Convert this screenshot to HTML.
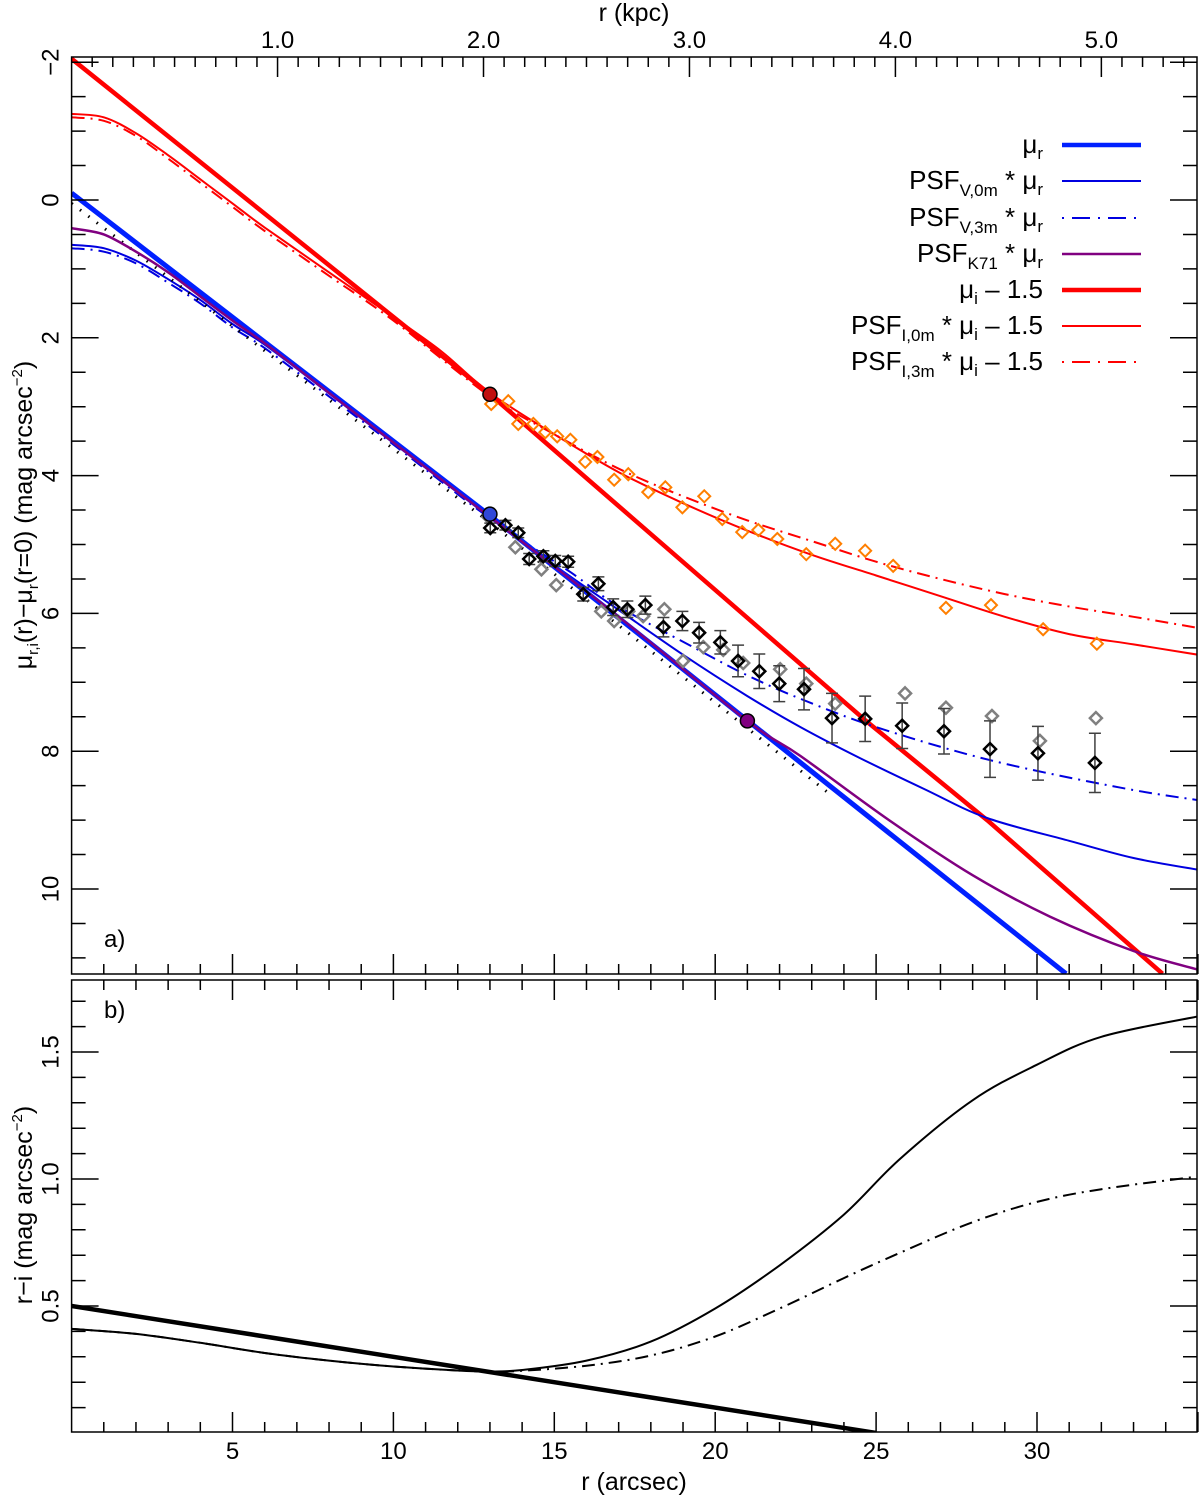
<!DOCTYPE html>
<html><head><meta charset="utf-8"><style>
body{margin:0;background:#fff;}
svg{display:block;font-family:"Liberation Sans",sans-serif;}
</style></head><body>
<svg id="chart" width="1200" height="1498" viewBox="0 0 1200 1498" xmlns="http://www.w3.org/2000/svg"></svg>
<script>
// ---- data (r in arcsec, mu in mag) ----
const muR_r=[0,13,30.9];
const muR_v=[-0.1,4.58,11.23];
const v0m_r=[0,1,2,3,4,5,6,8,10,13,15,17,19,21,22.65,24.5,26.5,28.45,31,33,35];
const v0m_v=[0.65,0.7,0.88,1.15,1.45,1.8,2.1,2.8,3.5,4.6,5.3,5.95,6.6,7.2,7.65,8.1,8.55,8.97,9.3,9.55,9.72];
const v3m_r=[0,1,2,3,4,5,6,8,10,13,15.5,17,19.6,21,22.65,25,28.55,32.6,35];
const v3m_v=[0.7,0.75,0.92,1.2,1.5,1.85,2.15,2.85,3.55,4.62,5.4,5.9,6.56,6.9,7.24,7.65,8.13,8.53,8.71];
const k71_r=[0,1,2,3,4,5,6,8,10,13,17,21,22.65,25.4,28,30.4,33,35];
const k71_v=[0.41,0.5,0.75,1.05,1.4,1.75,2.08,2.8,3.52,4.6,6.05,7.56,8.07,9.0,9.8,10.4,10.9,11.17];
const dot_r=[0,13,23.5];
const dot_v=[0.05,4.68,8.6];
const muI_r=[0,13,24.66,28.45,33.9];
const muI_v=[-2.05,2.82,7.55,9.0,11.23];
const i0m_r=[0,1,2,3,4,5,6,8,10,11.5,13,15,17,19,21,23,25,27,29,31,33,35];
const i0m_v=[-1.25,-1.2,-0.97,-0.65,-0.3,0.05,0.4,1.05,1.7,2.2,2.8,3.4,3.95,4.4,4.8,5.15,5.45,5.75,6.05,6.3,6.45,6.6];
const i3m_r=[0,1,2,3,4,5,6,8,10,13,15,17,19,21,23,25,27,29,31,33,35];
const i3m_v=[-1.2,-1.15,-0.93,-0.6,-0.25,0.1,0.45,1.1,1.75,2.85,3.4,3.9,4.3,4.65,4.95,5.25,5.5,5.72,5.9,6.05,6.21];
const orange_r=[13.04,13.57,13.88,14.35,14.72,15.09,15.5,15.96,16.34,16.86,17.3,17.92,18.45,18.98,19.66,20.22,20.84,21.34,21.93,22.83,23.73,24.66,25.53,27.17,28.57,30.19,31.86];
const orange_v=[2.96,2.92,3.25,3.25,3.37,3.43,3.48,3.80,3.73,4.06,3.98,4.24,4.17,4.46,4.30,4.63,4.82,4.79,4.92,5.14,4.99,5.09,5.31,5.92,5.88,6.23,6.44];
const black_r=[13.01,13.48,13.88,14.22,14.66,15.03,15.43,15.90,16.37,16.83,17.27,17.83,18.39,18.98,19.50,20.16,20.71,21.37,21.99,22.76,23.63,24.66,25.81,27.11,28.54,30.03,31.80];
const black_v=[4.76,4.72,4.83,5.21,5.17,5.24,5.25,5.72,5.57,5.91,5.94,5.88,6.20,6.11,6.28,6.42,6.69,6.84,7.02,7.10,7.52,7.53,7.63,7.71,7.97,8.03,8.17];
const black_e=[0.07,0.07,0.07,0.08,0.08,0.08,0.08,0.1,0.1,0.12,0.12,0.13,0.14,0.14,0.15,0.17,0.23,0.25,0.26,0.3,0.36,0.33,0.33,0.33,0.41,0.39,0.43];
const gray_r=[12.95,13.79,14.60,15.06,16.46,16.86,17.30,17.76,18.42,19.0,19.63,20.25,20.87,22.02,22.83,23.73,25.90,27.17,28.60,30.09,31.83];
const gray_v=[4.60,5.04,5.36,5.59,5.97,6.11,5.97,6.04,5.94,6.69,6.49,6.53,6.72,6.81,7.02,7.31,7.16,7.37,7.49,7.85,7.52];
const dots_r=[13,13,21];
const dots_v=[2.82,4.56,7.56];
// panel b
const riThick_r=[0,25];
const riThick_v=[0.5,0.0];
const ri0_r=[0,2,4,6,8,10,12,13,14,16,18,20,22,24,25.75,28,30,32,35];
const ri0_v=[0.41,0.39,0.355,0.315,0.285,0.262,0.246,0.242,0.248,0.285,0.36,0.49,0.66,0.86,1.08,1.31,1.45,1.56,1.64];
const ri3_r=[0,2,4,6,8,10,12,13,14,16,18,20,22,24,25.75,28,30,32,35];
const ri3_v=[0.41,0.39,0.355,0.315,0.285,0.262,0.246,0.242,0.245,0.265,0.305,0.38,0.49,0.61,0.71,0.83,0.91,0.96,1.01];
const xTickLabels=[5,10,15,20,25,30];
const aTickLabels=[-2,0,2,4,6,8,10];
const bTickLabels=["0.5","1.0","1.5"];
const kpcLabels=["1.0","2.0","3.0","4.0","5.0"];

// ---- geometry ----
const L=71.6,R=1197,AT=57,AB=974,BT=980,BB=1432;
const X=r=>L+r*32.18;
const YA=m=>200+m*68.9;
const YB=v=>1433-v*254;
const NS="http://www.w3.org/2000/svg";
const svg=document.getElementById('chart');
function el(tag,attrs,parent){const e=document.createElementNS(NS,tag);for(const k in attrs)e.setAttribute(k,attrs[k]);(parent||svg).appendChild(e);return e;}
function clip(id,y1,y2){const c=el('clipPath',{id:id});el('rect',{x:L,y:y1,width:R-L,height:y2-y1},c);}
clip('ca',AT,AB);clip('cb',BT,BB);
const gA=el('g',{'clip-path':'url(#ca)'});


const gB=el('g',{'clip-path':'url(#cb)'});


const DD='13 6 2 6';
function smoothPath(pts){
  if(pts.length<3)return 'M'+pts.map(p=>p[0].toFixed(1)+','+p[1].toFixed(1)).join('L');
  let d='M'+pts[0][0].toFixed(1)+','+pts[0][1].toFixed(1);
  for(let i=0;i<pts.length-1;i++){
    const p0=pts[Math.max(0,i-1)],p1=pts[i],p2=pts[i+1],p3=pts[Math.min(pts.length-1,i+2)];
    const c1=[p1[0]+(p2[0]-p0[0])/6,p1[1]+(p2[1]-p0[1])/6];
    const c2=[p2[0]-(p3[0]-p1[0])/6,p2[1]-(p3[1]-p1[1])/6];
    d+=`C${c1[0].toFixed(1)},${c1[1].toFixed(1)} ${c2[0].toFixed(1)},${c2[1].toFixed(1)} ${p2[0].toFixed(1)},${p2[1].toFixed(1)}`;
  }
  return d;
}
function line(g,rs,vs,Y,color,w,dash,name,straight){
  const pts=rs.map((r,i)=>[X(r),Y(vs[i])]);
  const d=straight?'M'+pts.map(p=>p[0].toFixed(1)+','+p[1].toFixed(1)).join('L'):smoothPath(pts);
  const e=el('path',{d:d,fill:'none',stroke:color,'stroke-width':w,'stroke-linejoin':'round'},g);
  if(dash)e.setAttribute('stroke-dasharray',dash);
  
  
}
line(gA,i3m_r,i3m_v,YA,'#f00',2,DD,'psf-i-3m-line');
line(gA,i0m_r,i0m_v,YA,'#f00',2,null,'psf-i-0m-line');
line(gA,muI_r,muI_v,YA,'#f00',4.5,null,'mu-i-line',true);
line(gA,v3m_r,v3m_v,YA,'#0000e0',2,DD,'psf-v-3m-line');
line(gA,v0m_r,v0m_v,YA,'#0000e0',2,null,'psf-v-0m-line');
line(gA,dot_r,dot_v,YA,'#000',3,'1.5 9','dotted-model-line',true);
line(gA,muR_r,muR_v,YA,'#0020ff',5,null,'mu-r-line',true);
line(gA,k71_r,k71_v,YA,'#800080',2.5,null,'psf-k71-line');
function diamond(g,x,y,color,w,name){
  const s=6;
  const e=el('polygon',{points:`${x},${y-s} ${x+s},${y} ${x},${y+s} ${x-s},${y}`,fill:'none',stroke:color,'stroke-width':w},g);
  
  
}
orange_r.forEach((r,i)=>diamond(gA,X(r),YA(orange_v[i]),'#ff7f00',2,'orange-point'));
gray_r.forEach((r,i)=>diamond(gA,X(r),YA(gray_v[i]),'#808080',2.5,'gray-point'));
black_r.forEach((r,i)=>{
  const x=X(r),y1=YA(black_v[i]-black_e[i]),y2=YA(black_v[i]+black_e[i]);
  const eb=el('path',{d:`M${x},${y1}V${y2}M${x-6},${y1}H${x+6}M${x-6},${y2}H${x+6}`,stroke:'#404040','stroke-width':1.5,fill:'none'},gA);
  
  
  diamond(gA,x,YA(black_v[i]),'#000',2.5,'black-point');
});
const dotColors=['#c01010','#3048d8','#800080'];
dots_r.forEach((r,i)=>{
  const c=el('circle',{cx:X(r),cy:YA(dots_v[i]),r:7,fill:dotColors[i],stroke:'#000','stroke-width':1.5},gA);
  
  
});
line(gB,riThick_r,riThick_v,YB,'#000',4.5,null,'ri-intrinsic-line',true);
line(gB,ri0_r,ri0_v,YB,'#000',2,null,'ri-0m-line');
line(gB,ri3_r,ri3_v,YB,'#000',2,DD,'ri-3m-line');

// ---- frames & ticks ----
function rect(y1,y2,name){const e=el('rect',{x:L,y:y1,width:R-L,height:y2-y1,fill:'none',stroke:'#000','stroke-width':1.5});}
rect(AT,AB,'panel-a-frame');rect(BT,BB,'panel-b-frame');
const tk=el('g',{stroke:'#000','stroke-width':1.5});


let d='';
for(let r=1;r<35.05;r++){const x=X(r),len=r%5==0?20:10;
  d+=`M${x},${AB}v${-len}M${x},${BT}v${len}M${x},${BB}v${-len}`;}
for(let k=1;k<=54;k++){const x=X(k*0.1*6.4);if(x>R)break;const len=k%10==0?20:10;d+=`M${x},${AT}v${len}`;}
for(let m=-2;m<=11;m+=0.5){const y=YA(m);if(y<AT||y>AB)continue;const len=(Math.abs(m%2)<1e-6)?27:14;d+=`M${L},${y}h${len}M${R},${y}h${-len}`;}
for(let k=1;k<18;k++){const v=k*0.1,y=YB(v);const len=k%5==0?27:14;d+=`M${L},${y}h${len}M${R},${y}h${-len}`;}
el('path',{d:d},tk);
function txt(x,y,s,opts){const e=el('text',Object.assign({x:x,y:y,'font-size':24,'text-anchor':'middle',fill:'#000'},opts||{}));e.innerHTML=s;return e;}
xTickLabels.forEach(v=>{const t=txt(X(v),1459,v);});
kpcLabels.forEach(v=>{const t=txt(X(parseFloat(v)*6.4),48,v);});
aTickLabels.forEach(v=>{const y=YA(v);const t=txt(52,y,String(v).replace('-','−'),{transform:`rotate(-90 52 ${y})`,'dominant-baseline':'middle'});});
bTickLabels.forEach(v=>{const y=YB(parseFloat(v));const t=txt(52,y,v,{transform:`rotate(-90 52 ${y})`,'dominant-baseline':'middle'});});
</script>
<svg style="position:absolute;left:0;top:0" width="1200" height="1498" xmlns="http://www.w3.org/2000/svg" font-family="Liberation Sans, sans-serif">
<text x="634" y="1490" font-size="25" text-anchor="middle">r (arcsec)</text>
<text x="634" y="21" font-size="25" text-anchor="middle">r (kpc)</text>
<text transform="translate(32 515) rotate(-90)" font-size="25" text-anchor="middle">μ<tspan font-size="15" dy="6">r,i</tspan><tspan dy="-6">(r)−μ</tspan><tspan font-size="15" dy="6">r</tspan><tspan dy="-6">(r=0) (mag arcsec</tspan><tspan font-size="15" dy="-10">−2</tspan><tspan dy="10">)</tspan></text>
<text transform="translate(32 1205) rotate(-90)" font-size="25" text-anchor="middle">r−i (mag arcsec<tspan font-size="15" dy="-10">−2</tspan><tspan dy="10">)</tspan></text>
<text x="104" y="947" font-size="24">a)</text>
<text x="104" y="1018" font-size="24">b)</text>
<g font-size="26" text-anchor="end">
<text x="1043" y="153">μ<tspan font-size="17" dy="6">r</tspan></text>
<line x1="1062" y1="145" x2="1141" y2="145" stroke="#0020ff" stroke-width="4.5"/>
<text x="1043" y="189">PSF<tspan font-size="17" dy="7">V,0m</tspan><tspan dy="-7"> * μ</tspan><tspan font-size="17" dy="6">r</tspan></text>
<line x1="1062" y1="181" x2="1141" y2="181" stroke="#0000e0" stroke-width="2"/>
<text x="1043" y="226">PSF<tspan font-size="17" dy="7">V,3m</tspan><tspan dy="-7"> * μ</tspan><tspan font-size="17" dy="6">r</tspan></text>
<line x1="1062" y1="218" x2="1141" y2="218" stroke="#0000e0" stroke-width="2" stroke-dasharray="2 8 18 8"/>
<text x="1043" y="262">PSF<tspan font-size="17" dy="7">K71</tspan><tspan dy="-7"> * μ</tspan><tspan font-size="17" dy="6">r</tspan></text>
<line x1="1062" y1="254" x2="1141" y2="254" stroke="#800080" stroke-width="2.5"/>
<text x="1043" y="298">μ<tspan font-size="17" dy="6">i</tspan><tspan dy="-6"> – 1.5</tspan></text>
<line x1="1062" y1="290" x2="1141" y2="290" stroke="#f00" stroke-width="4.5"/>
<text x="1043" y="334">PSF<tspan font-size="17" dy="7">I,0m</tspan><tspan dy="-7"> * μ</tspan><tspan font-size="17" dy="6">i</tspan><tspan dy="-6"> – 1.5</tspan></text>
<line x1="1062" y1="326" x2="1141" y2="326" stroke="#f00" stroke-width="2"/>
<text x="1043" y="370">PSF<tspan font-size="17" dy="7">I,3m</tspan><tspan dy="-7"> * μ</tspan><tspan font-size="17" dy="6">i</tspan><tspan dy="-6"> – 1.5</tspan></text>
<line x1="1062" y1="362" x2="1141" y2="362" stroke="#f00" stroke-width="2" stroke-dasharray="2 8 18 8"/>
</g>
</svg>
</body></html>
